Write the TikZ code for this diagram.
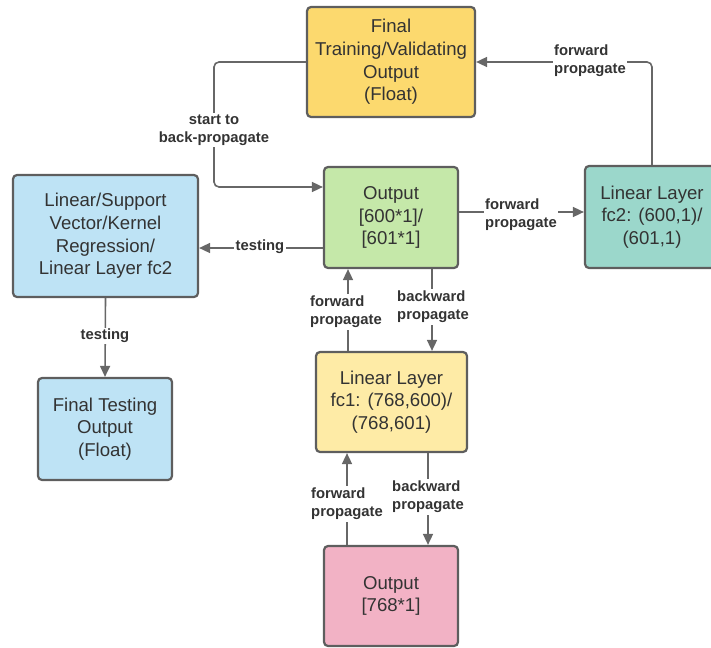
\documentclass[tikz,border=0pt]{standalone}
\usepackage{fontspec}
\setmainfont{Liberation Sans}
\usepackage{xcolor}
\definecolor{textcolor}{HTML}{333333}
\definecolor{boxborder}{HTML}{5E5E5E}
\definecolor{linecolor}{HTML}{676767}
\definecolor{finalfill}{HTML}{FCD96E}
\definecolor{testfill}{HTML}{BEE3F5}
\definecolor{outfill}{HTML}{C5E8A9}
\definecolor{fctwofill}{HTML}{9BD7CB}
\definecolor{fconefill}{HTML}{FEEBA6}
\definecolor{inputfill}{HTML}{F2B2C5}
\usepackage{tikz}
\usetikzlibrary{positioning,arrows.meta}
\tikzset{
    box/.style={
        rectangle,
        draw=boxborder,
        text=textcolor,
        align=center,
        rounded corners=4pt,
        line width=2.2pt,
        inner sep=0pt,
        font=\fontsize{18.6}{22.7}\selectfont,
    },
    flow/.style={
        -{Triangle[length=11pt,width=10pt]},
        line width=1.6pt,
        draw=linecolor,
        rounded corners=5pt,
    },
    lbl/.style={
        fill=white,
        text=textcolor,
        align=left,
        inner sep=1.5pt,
        font=\fontsize{14.8}{18.2}\selectfont\bfseries,
    },
}

\begin{document}
\begin{tikzpicture}[x=1pt, y=-1pt]
    \useasboundingbox (0,0) rectangle (711,647);

    \node[box, fill=finalfill, minimum width=168pt, minimum height=110pt] (final) at (391,62) {Final\\Training/Validating\\Output\\(Float)};
    \node[box, fill=outfill, minimum width=134pt, minimum height=101pt] (output) at (391,217.5) {Output\\{[}600*1{]}/\\{[}601*1{]}};
    \node[box, fill=fctwofill, minimum width=134pt, minimum height=102pt] (fctwo) at (652,217) {Linear Layer\\fc2: (600,1)/\\(601,1)};
    \node[box, fill=testfill, minimum width=185pt, minimum height=122pt] (regress) at (105.5,236) {Linear/Support\\Vector/Kernel\\Regression/\\Linear Layer fc2};
    \node[box, fill=testfill, minimum width=134pt, minimum height=102pt] (testout) at (105,429) {Final Testing\\Output\\(Float)};
    \node[box, fill=fconefill, minimum width=151pt, minimum height=100pt] (fcone) at (391.5,402) {Linear Layer\\fc1: (768,600)/\\(768,601)};
    \node[box, fill=inputfill, minimum width=134pt, minimum height=100pt] (input) at (391,596) {Output\\{[}768*1{]}};

    \coordinate (backturn) at (214,130);

    \draw[flow] (fctwo.north) |- (final.east);
    \draw[flow] (final.west) -| (backturn) |- ([yshift=30.5pt]output.west);
    \draw[flow] ([yshift=5.5pt]output.east) -- ([yshift=5pt]fctwo.west);
    \draw[flow] ([yshift=-30.5pt]output.west) -- ([yshift=-12pt]regress.east);
    \draw[flow] (regress.south) -- (testout.north);
    \draw[flow] ([xshift=-43.5pt]fcone.north) -- ([xshift=-43pt]output.south);
    \draw[flow] ([xshift=41pt]output.south) -- ([xshift=40.5pt]fcone.north);
    \draw[flow] ([xshift=-44pt]input.north) -- ([xshift=-44.5pt]fcone.south);
    \draw[flow] ([xshift=36.5pt]fcone.south) -- ([xshift=37pt]input.north);

    \node[lbl] (fwdtop) at (590,61) {forward\\propagate};
    \node[lbl, align=center] (startback) at (214,130) {start to\\back-propagate};
    \node[lbl] (fwdright) at (521,214.5) {forward\\propagate};
    \node[lbl] (testleft) at (260,247) {testing};
    \node[lbl] (testdown) at (105,336) {testing};
    \node[lbl] (fwdmid) at (346,312) {forward\\propagate};
    \node[lbl] (bwdmid) at (433,307) {backward\\propagate};
    \node[lbl] (fwdlow) at (347,504) {forward\\propagate};
    \node[lbl] (bwdlow) at (428,497) {backward\\propagate};
\end{tikzpicture}
\end{document}
